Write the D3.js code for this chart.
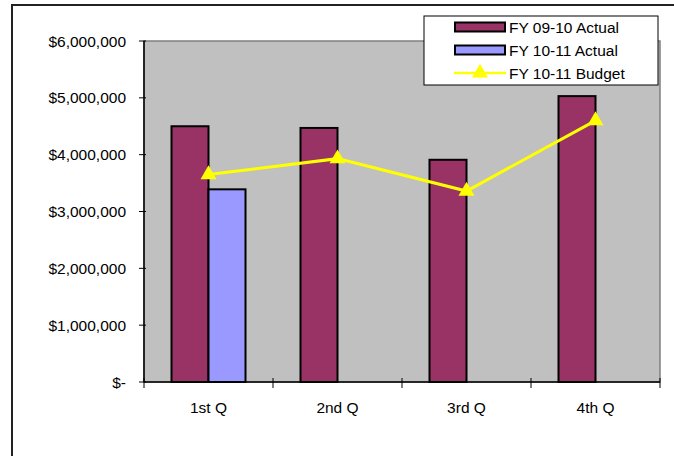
<!DOCTYPE html>
<html>
<head>
<meta charset="utf-8">
<script src="https://cdn.jsdelivr.net/npm/d3@7"></script>
<style>
  html, body { margin: 0; padding: 0; background: #fff; }
  svg { display: block; font-family: "Liberation Sans", Arial, sans-serif; }
</style>
</head>
<body>
<svg id="chart" width="674" height="456"></svg>
<script>
const categories = ["1st Q", "2nd Q", "3rd Q", "4th Q"];
const seriesNames = ["FY 09-10 Actual", "FY 10-11 Actual", "FY 10-11 Budget"];
const actual0910 = [4500000, 4470000, 3910000, 5030000];
const actual1011 = [3390000, null, null, null];
const budget1011 = [3650000, 3930000, 3360000, 4600000];
const yTicks = [0, 1000000, 2000000, 3000000, 4000000, 5000000, 6000000];

const barColors = ["#993366", "#9999FF"];
const lineColor = "#FFFF00";

const svg = d3.select("#chart");
const plot = { left: 144, right: 660, top: 41, bottom: 382 };
const fontSize = 15.5;

// outer chart frame
svg.append("rect").attr("x", 12).attr("y", 5).attr("width", 720).attr("height", 520)
  .attr("fill", "#fff").attr("stroke", "#222").attr("stroke-width", 2);

const x = d3.scaleBand().domain(categories).range([plot.left, plot.right]).padding(0);
const y = d3.scaleLinear().domain([0, 6000000]).range([plot.bottom, plot.top]);
const barW = 37;
const x1 = d3.scaleBand().domain([0, 1]).range([-barW, barW]).padding(0);

// plot area
svg.append("rect").attr("x", plot.left).attr("y", plot.top)
  .attr("width", plot.right - plot.left).attr("height", plot.bottom - plot.top)
  .attr("fill", "#C0C0C0").attr("stroke", "#808080").attr("stroke-width", 1.5);

// bars
const barSeries = [actual0910, actual1011];
barSeries.forEach((vals, si) => {
  svg.append("g").selectAll("rect")
    .data(categories.map((c, i) => ({ c, v: vals[i] })).filter(d => d.v != null))
    .join("rect")
    .attr("x", d => x(d.c) + x.bandwidth() / 2 + x1(si))
    .attr("y", d => y(d.v))
    .attr("width", x1.bandwidth())
    .attr("height", d => y(0) - y(d.v))
    .attr("fill", barColors[si])
    .attr("stroke", "#000").attr("stroke-width", 2);
});

// budget line
const cx = c => x(c) + x.bandwidth() / 2;
const budgetData = categories.map((c, i) => ({ c, v: budget1011[i] }));
svg.append("path").datum(budgetData)
  .attr("d", d3.line().x(d => cx(d.c)).y(d => y(d.v)))
  .attr("fill", "none").attr("stroke", lineColor).attr("stroke-width", 3);
const tri = d3.symbol().type(d3.symbolTriangle).size(110);
svg.append("g").selectAll("path").data(budgetData).join("path")
  .attr("transform", d => `translate(${cx(d.c)},${y(d.v)})`)
  .attr("d", tri).attr("fill", lineColor);

// y axis
const yAxis = svg.append("g");
yAxis.append("line").attr("x1", plot.left).attr("x2", plot.left)
  .attr("y1", plot.top).attr("y2", plot.bottom).attr("stroke", "#000").attr("stroke-width", 1.5);
const fmt = v => v === 0 ? "$-" : "$" + d3.format(",")(v);
yAxis.selectAll("line.tick").data(yTicks).join("line").attr("class", "tick")
  .attr("x1", plot.left - 5).attr("x2", plot.left + 2)
  .attr("y1", d => y(d)).attr("y2", d => y(d)).attr("stroke", "#000").attr("stroke-width", 1);
yAxis.selectAll("text").data(yTicks).join("text")
  .attr("x", 126).attr("y", d => y(d)).attr("dy", "0.36em")
  .attr("text-anchor", "end").attr("font-size", fontSize).attr("fill", "#000")
  .text(fmt);

// x axis
const xAxis = svg.append("g");
xAxis.append("line").attr("x1", plot.left).attr("x2", plot.right)
  .attr("y1", plot.bottom).attr("y2", plot.bottom).attr("stroke", "#000").attr("stroke-width", 1.5);
const bounds = categories.map(c => x(c)).concat([x(categories[categories.length - 1]) + x.bandwidth()]);
xAxis.selectAll("line.tick").data(bounds).join("line").attr("class", "tick")
  .attr("x1", d => d).attr("x2", d => d)
  .attr("y1", plot.bottom - 4).attr("y2", plot.bottom + 6).attr("stroke", "#000").attr("stroke-width", 1);
xAxis.selectAll("text").data(categories).join("text")
  .attr("x", d => cx(d)).attr("y", 413)
  .attr("text-anchor", "middle").attr("font-size", fontSize).attr("fill", "#000")
  .text(d => d);

// legend
const lg = svg.append("g");
lg.append("rect").attr("x", 424).attr("y", 16).attr("width", 234).attr("height", 69)
  .attr("fill", "#fff").attr("stroke", "#000").attr("stroke-width", 1);
const rowY = [27, 50, 73];
seriesNames.forEach((name, i) => {
  if (i < 2) {
    lg.append("rect").attr("x", 455).attr("y", rowY[i] - 4.5).attr("width", 50).attr("height", 9)
      .attr("fill", barColors[i]).attr("stroke", "#000").attr("stroke-width", 2);
  } else {
    lg.append("line").attr("x1", 454).attr("x2", 506).attr("y1", rowY[i]).attr("y2", rowY[i])
      .attr("stroke", lineColor).attr("stroke-width", 2.5);
    lg.append("path").attr("transform", `translate(480,${rowY[i]})`).attr("d", tri).attr("fill", lineColor);
  }
  lg.append("text").attr("x", 509).attr("y", rowY[i]).attr("dy", "0.36em")
    .attr("font-size", fontSize).attr("fill", "#000").text(name);
});
</script>
</body>
</html>
